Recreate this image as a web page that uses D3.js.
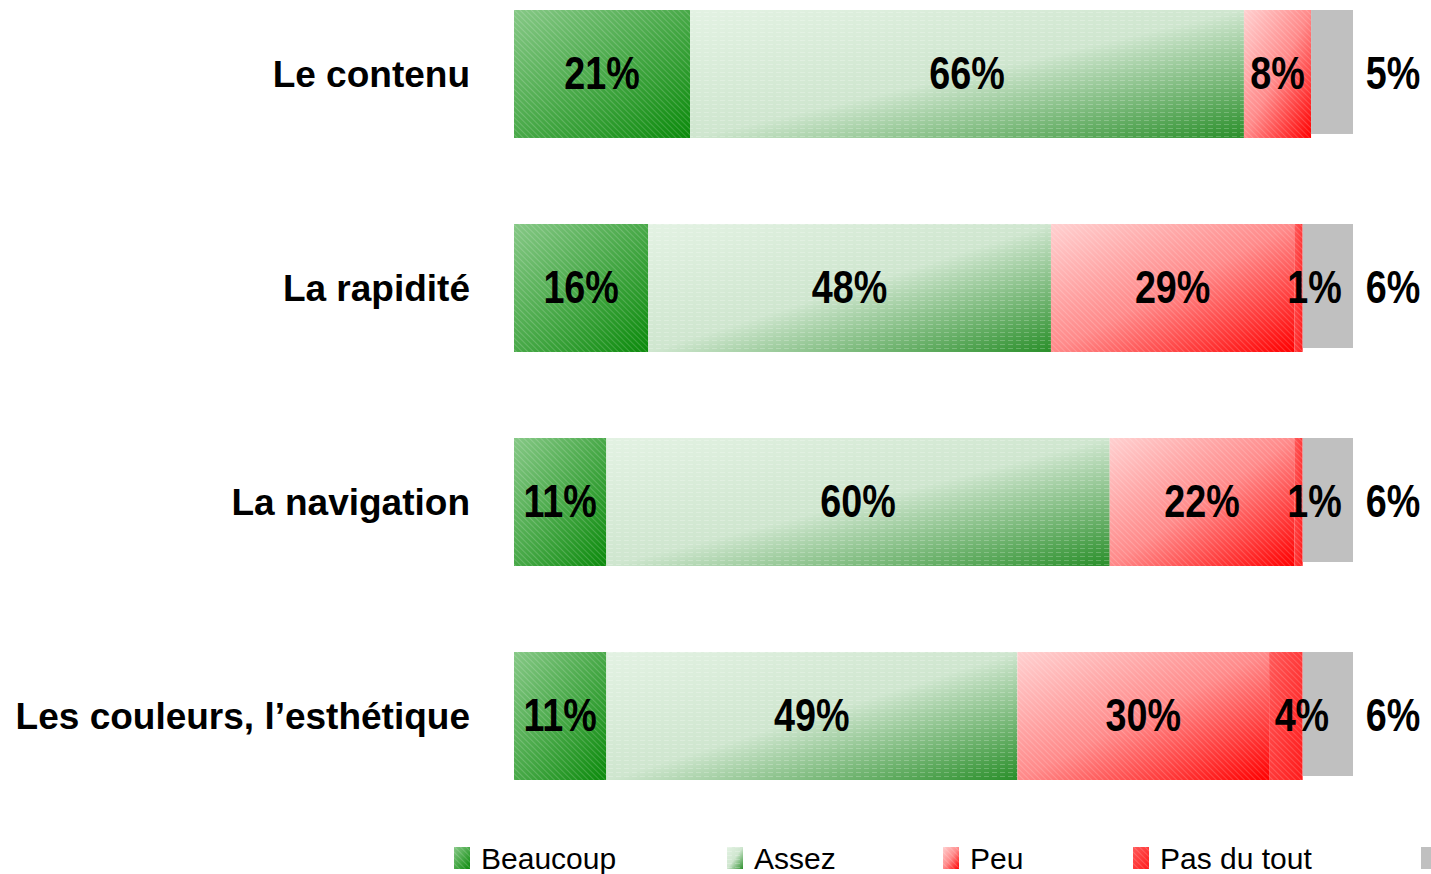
<!DOCTYPE html>
<html>
<head>
<meta charset="utf-8">
<script src="https://cdn.jsdelivr.net/npm/d3@7"></script>
<style>
  body { margin: 0; background: #fff; }
  svg { display: block; }
</style>
</head>
<body>
<div id="chart"></div>
<script>
// data
const categories = ['Le contenu', 'La rapidité', 'La navigation', 'Les couleurs, l’esthétique'];
const seriesNames = ['Beaucoup', 'Assez', 'Peu', 'Pas du tout', ''];
const beaucoup = [21, 16, 11, 11];
const assez = [66, 48, 60, 49];
const peu = [8, 29, 22, 30];
const pasDuTout = [0, 1, 1, 4];
const sansReponse = [5, 6, 6, 6];
const seriesValues = [beaucoup, assez, peu, pasDuTout, sansReponse];

const width = 1431;
const height = 874;

const svg = d3.select('#chart')
  .append('svg')
  .attr('width', width)
  .attr('height', height);

const defs = svg.append('defs');

// gradients for each series
const gradients = [
  { id: 'g0', stops: ['#86c886', '#0b8a0b'] },
  { id: 'g1', stops: ['#e3f2e3', '#cfe6cf', '#2a8f2a'] },
  { id: 'g2', stops: ['#ffd0d0', '#ff8a8a', '#ff0000'] },
  { id: 'g3', stops: ['#ff5a5a', '#ff1a1a'] },
];
gradients.forEach((g) => {
  const lg = defs.append('linearGradient')
    .attr('id', g.id)
    .attr('x1', 0).attr('y1', 0)
    .attr('x2', 1).attr('y2', 1);
  g.stops.forEach((c, i) => {
    lg.append('stop')
      .attr('offset', i / (g.stops.length - 1))
      .attr('stop-color', c);
  });
});

// subtle texture
const diag = defs.append('pattern')
  .attr('id', 'diag')
  .attr('width', 4).attr('height', 4)
  .attr('patternUnits', 'userSpaceOnUse')
  .attr('patternTransform', 'rotate(-45)');
diag.append('rect').attr('width', 1).attr('height', 4).attr('fill', '#fff').attr('opacity', 0.18);

const dash = defs.append('pattern')
  .attr('id', 'dash')
  .attr('width', 8).attr('height', 4)
  .attr('patternUnits', 'userSpaceOnUse');
dash.append('rect').attr('width', 5).attr('height', 1).attr('fill', '#fff').attr('opacity', 0.22);

const fills = ['url(#g0)', 'url(#g1)', 'url(#g2)', 'url(#g3)', '#c0c0c0'];
const textures = ['url(#diag)', 'url(#dash)', 'url(#diag)', 'url(#diag)', null];

const x = d3.scaleLinear()
  .domain([0, 100])
  .range([514, 1353]);

const y = d3.scaleBand()
  .domain(categories)
  .range([10, 780])
  .paddingInner(0.402)
  .paddingOuter(0);

// stacked rows
const rows = categories.map((c, i) => {
  let acc = 0;
  return seriesValues.map((vals, s) => {
    const seg = { cat: c, s, v: vals[i], x0: acc, x1: acc + vals[i] };
    acc += vals[i];
    return seg;
  });
});
const segments = rows.flat().filter(d => d.v > 0);

const bars = svg.append('g');

bars.selectAll('.seg')
  .data(segments)
  .enter()
  .append('rect')
  .attr('x', d => x(d.x0))
  .attr('y', d => y(d.cat))
  .attr('width', d => x(d.x1) - x(d.x0))
  .attr('height', d => (d.s === 4 ? y.bandwidth() - 4 : y.bandwidth()))
  .attr('fill', d => fills[d.s]);

bars.selectAll('.tex')
  .data(segments.filter(d => textures[d.s]))
  .enter()
  .append('rect')
  .attr('x', d => x(d.x0))
  .attr('y', d => y(d.cat))
  .attr('width', d => x(d.x1) - x(d.x0))
  .attr('height', y.bandwidth())
  .attr('fill', d => textures[d.s]);

// value labels (narrow bold, squeezed horizontally)
const labelX = (d) => {
  if (d.s === 4) return x(100) + 40;
  if (d.s === 3) return x((d.x0 + d.x1) / 2) + 16;
  return x((d.x0 + d.x1) / 2);
};

svg.append('g')
  .selectAll('text')
  .data(segments)
  .enter()
  .append('text')
  .attr('transform', d => `translate(${labelX(d)}, ${y(d.cat) + y.bandwidth() / 2 + (d.s === 4 ? -2 : -2)}) scale(0.82, 1)`)
  .attr('dy', '0.36em')
  .attr('text-anchor', 'middle')
  .attr('font-family', '"Liberation Sans", Arial, sans-serif')
  .attr('font-weight', 'bold')
  .attr('font-size', '46px')
  .attr('fill', '#000')
  .text(d => `${d.v}%`);

// category labels
svg.append('g')
  .selectAll('text')
  .data(categories)
  .enter()
  .append('text')
  .attr('x', 470)
  .attr('y', d => y(d) + y.bandwidth() / 2)
  .attr('dy', '0.36em')
  .attr('text-anchor', 'end')
  .attr('font-family', '"Liberation Sans", Arial, sans-serif')
  .attr('font-weight', 'bold')
  .attr('font-size', '37px')
  .attr('fill', '#000')
  .text(d => d);

// legend
const legendX = [454, 727, 943, 1133, 1421];
const legend = svg.append('g')
  .selectAll('g')
  .data(seriesNames)
  .enter()
  .append('g')
  .attr('transform', (d, i) => `translate(${legendX[i]}, 847)`);

legend.append('rect')
  .attr('width', 16)
  .attr('height', 22)
  .attr('fill', (d, i) => fills[i]);

legend.filter((d, i) => textures[i])
  .append('rect')
  .attr('width', 16)
  .attr('height', 22)
  .attr('fill', d => textures[seriesNames.indexOf(d)]);

legend.append('text')
  .attr('x', 27)
  .attr('y', 11)
  .attr('dy', '0.36em')
  .attr('font-family', '"Liberation Sans", Arial, sans-serif')
  .attr('font-size', '30px')
  .attr('fill', '#000')
  .text(d => d);
</script>
</body>
</html>
